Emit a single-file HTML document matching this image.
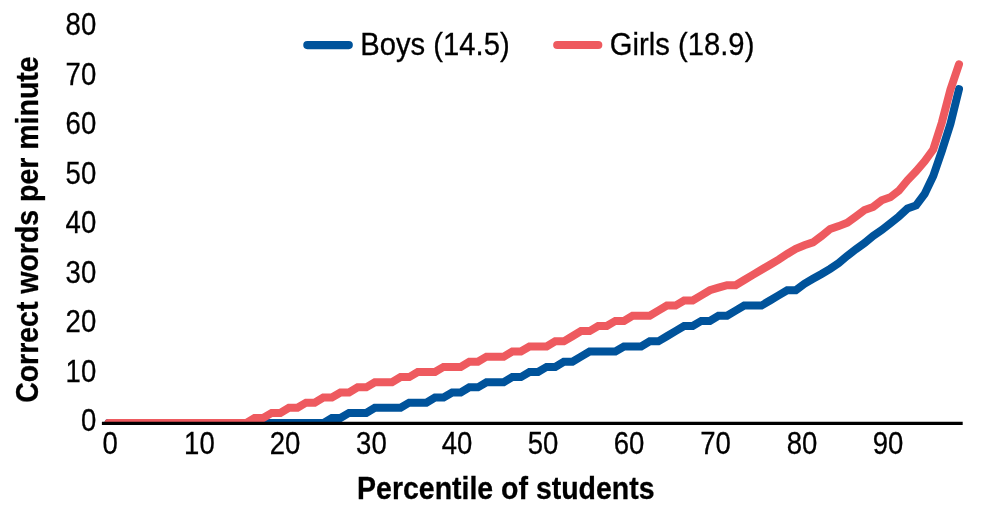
<!DOCTYPE html>
<html lang="en"><head><meta charset="utf-8"><title>Correct words per minute by percentile of students</title>
<style>html,body{margin:0;padding:0;background:#fff}body{width:988px;height:522px;overflow:hidden}</style></head>
<body>
<svg width="988" height="522" viewBox="0 0 988 522" style="display:block">
<rect width="988" height="522" fill="#ffffff"/>
<defs><clipPath id="plot"><rect x="90" y="0" width="898" height="423.3"/></clipPath></defs>
<g clip-path="url(#plot)" fill="none" stroke-width="8" stroke-linecap="round" stroke-linejoin="miter">
<polyline stroke="#00539B" points="108.50,423.10 117.09,423.10 125.68,423.10 134.27,423.10 142.86,423.10 151.45,423.10 160.05,423.10 168.64,423.10 177.23,423.10 185.82,423.10 194.41,423.10 203.00,423.10 211.59,423.10 220.18,423.10 228.77,423.10 237.36,423.10 245.96,423.10 254.55,423.10 263.14,423.10 271.73,423.10 280.32,423.10 288.91,423.10 297.50,423.10 306.09,423.10 314.68,423.10 323.27,423.10 331.87,417.99 340.46,417.99 349.05,412.88 357.64,412.88 366.23,412.88 374.82,407.77 383.41,407.77 392.00,407.77 400.59,407.77 409.19,402.66 417.78,402.66 426.37,402.66 434.96,397.55 443.55,397.55 452.14,392.44 460.73,392.44 469.32,387.33 477.91,387.33 486.50,382.22 495.09,382.22 503.69,382.22 512.28,377.11 520.87,377.11 529.46,372.00 538.05,372.00 546.64,366.89 555.23,366.89 563.82,361.78 572.41,361.78 581.00,356.67 589.60,351.56 598.19,351.56 606.78,351.56 615.37,351.56 623.96,346.45 632.55,346.45 641.14,346.45 649.73,341.34 658.32,341.34 666.91,336.23 675.51,331.12 684.10,326.01 692.69,326.01 701.28,320.90 709.87,320.90 718.46,315.79 727.05,315.79 735.64,310.68 744.23,305.57 752.82,305.57 761.42,305.57 770.01,300.46 778.60,295.35 787.19,290.24 795.78,290.24 804.37,283.80 812.96,278.80 821.55,274.00 830.14,268.80 838.73,263.00 847.33,255.80 855.92,249.20 864.51,243.10 873.10,235.90 881.69,230.10 890.28,223.40 898.87,216.50 907.46,208.50 916.05,205.40 924.64,194.00 933.24,176.00 941.83,151.00 950.42,124.00 959.01,89.10"/>
<polyline stroke="#EE5A5F" points="108.50,423.10 117.09,423.10 125.68,423.10 134.27,423.10 142.86,423.10 151.45,423.10 160.05,423.10 168.64,423.10 177.23,423.10 185.82,423.10 194.41,423.10 203.00,423.10 211.59,423.10 220.18,423.10 228.77,423.10 237.36,423.10 245.96,423.10 254.55,417.99 263.14,417.99 271.73,412.88 280.32,412.88 288.91,407.77 297.50,407.77 306.09,402.66 314.68,402.66 323.27,397.55 331.87,397.55 340.46,392.44 349.05,392.44 357.64,387.33 366.23,387.33 374.82,382.22 383.41,382.22 392.00,382.22 400.59,377.11 409.19,377.11 417.78,372.00 426.37,372.00 434.96,372.00 443.55,366.89 452.14,366.89 460.73,366.89 469.32,361.78 477.91,361.78 486.50,356.67 495.09,356.67 503.69,356.67 512.28,351.56 520.87,351.56 529.46,346.45 538.05,346.45 546.64,346.45 555.23,341.34 563.82,341.34 572.41,336.23 581.00,331.12 589.60,331.12 598.19,326.01 606.78,326.01 615.37,320.90 623.96,320.90 632.55,315.79 641.14,315.79 649.73,315.79 658.32,310.68 666.91,305.57 675.51,305.57 684.10,300.46 692.69,300.46 701.28,295.35 709.87,290.24 718.46,287.69 727.05,285.13 735.64,285.13 744.23,280.02 752.82,274.91 761.42,269.80 770.01,264.69 778.60,259.58 787.19,254.00 795.78,248.80 804.37,245.30 812.96,242.40 821.55,236.10 830.14,229.00 838.73,226.10 847.33,222.70 855.92,216.40 864.51,210.10 873.10,207.00 881.69,200.30 890.28,197.30 898.87,190.70 907.46,180.30 916.05,171.40 924.64,161.30 933.24,149.50 941.83,122.60 950.42,89.60 959.01,64.30"/>
</g>
<line x1="101.9" y1="423.35" x2="962.7" y2="423.35" stroke="#000" stroke-width="3.2"/>
<line x1="307.3" y1="45.1" x2="348.8" y2="45.1" stroke="#00539B" stroke-width="8.1" stroke-linecap="round"/>
<line x1="557.2" y1="45" x2="598.3" y2="45" stroke="#EE5A5F" stroke-width="8.1" stroke-linecap="round"/>
<g font-family="'Liberation Sans', Arial, sans-serif" fill="#000" stroke="#000" stroke-width="0.3">
<text transform="translate(360.2 54.6) scale(0.908 1)" font-size="32.2" text-anchor="start">Boys (14.5)</text>
<text transform="translate(609.8 54.6) scale(0.908 1)" font-size="32.2" text-anchor="start">Girls (18.9)</text>
<text transform="translate(96.2 35.0) scale(0.879 1)" font-size="31.3" text-anchor="end">80</text>
<text transform="translate(96.2 84.5) scale(0.879 1)" font-size="31.3" text-anchor="end">70</text>
<text transform="translate(96.2 134.1) scale(0.879 1)" font-size="31.3" text-anchor="end">60</text>
<text transform="translate(96.2 183.6) scale(0.879 1)" font-size="31.3" text-anchor="end">50</text>
<text transform="translate(96.2 233.1) scale(0.879 1)" font-size="31.3" text-anchor="end">40</text>
<text transform="translate(96.2 282.6) scale(0.879 1)" font-size="31.3" text-anchor="end">30</text>
<text transform="translate(96.2 332.4) scale(0.879 1)" font-size="31.3" text-anchor="end">20</text>
<text transform="translate(96.2 382.2) scale(0.879 1)" font-size="31.3" text-anchor="end">10</text>
<text transform="translate(96.2 430.9) scale(0.879 1)" font-size="31.3" text-anchor="end">0</text>
<text transform="translate(110.1 454.0) scale(0.879 1)" font-size="31.3" text-anchor="middle">0</text>
<text transform="translate(199.4 454.0) scale(0.879 1)" font-size="31.3" text-anchor="middle">10</text>
<text transform="translate(285.1 454.0) scale(0.879 1)" font-size="31.3" text-anchor="middle">20</text>
<text transform="translate(371.4 454.0) scale(0.879 1)" font-size="31.3" text-anchor="middle">30</text>
<text transform="translate(457.0 454.0) scale(0.879 1)" font-size="31.3" text-anchor="middle">40</text>
<text transform="translate(543.0 454.0) scale(0.879 1)" font-size="31.3" text-anchor="middle">50</text>
<text transform="translate(629.0 454.0) scale(0.879 1)" font-size="31.3" text-anchor="middle">60</text>
<text transform="translate(715.6 454.0) scale(0.879 1)" font-size="31.3" text-anchor="middle">70</text>
<text transform="translate(802.0 454.0) scale(0.879 1)" font-size="31.3" text-anchor="middle">80</text>
<text transform="translate(888.0 454.0) scale(0.879 1)" font-size="31.3" text-anchor="middle">90</text>
<text transform="translate(505.8 498.9) scale(0.89 1)" font-size="32" text-anchor="middle" font-weight="bold">Percentile of students</text>
<text transform="translate(38.3 229.6) rotate(-90) scale(0.89 1)" font-size="32" text-anchor="middle" font-weight="bold">Correct words per minute</text>
</g>
</svg>
</body></html>
